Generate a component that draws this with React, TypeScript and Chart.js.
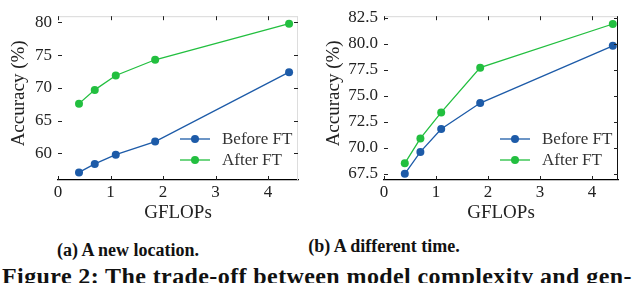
import React, { useEffect, useRef } from "react";
import { Chart, registerables } from "chart.js";

Chart.register(...registerables);

const gflops = [0.4, 0.7, 1.1, 1.85, 4.4];
const locBefore = [57.1, 58.4, 59.8, 61.8, 72.4];
const locAfter = [67.6, 69.7, 71.9, 74.3, 79.8];
const timeBefore = [67.5, 69.6, 71.8, 74.3, 79.8];
const timeAfter = [68.5, 70.9, 73.4, 77.7, 81.9];
const xTicks = [0, 1, 2, 3, 4];
const locYTicks = [60, 65, 70, 75, 80];
const timeYTicks = [67.5, 70, 72.5, 75, 77.5, 80, 82.5];
const seriesNames = ["Before FT", "After FT"];

const BLUE = "#1d5ba8";
const GREEN = "#22bf3f";
const SERIF = "'Liberation Serif', 'DejaVu Serif', serif";

type Cfg = {
  before: number[];
  after: number[];
  yTicks: number[];
  yMin: number;
  yMax: number;
  xMax: number;
  yWidth: number;
  top: number;
  titlePad: number;
  decimals: number;
  rightSpine: string;
};

const framePlugin = {
  id: "frame",
  afterDraw(chart: any, _args: any, opts: any) {
    const { ctx, chartArea: a, scales } = chart;
    const L = 4;
    ctx.save();
    ctx.strokeStyle = "#d8d8d8";
    ctx.lineWidth = 1;
    ctx.beginPath();
    ctx.moveTo(a.left, a.top + 0.5);
    ctx.lineTo(a.right, a.top + 0.5);
    ctx.stroke();
    ctx.strokeStyle = opts.rightSpine;
    ctx.beginPath();
    ctx.moveTo(a.right - 0.5, a.top);
    ctx.lineTo(a.right - 0.5, a.bottom);
    ctx.stroke();
    ctx.strokeStyle = "#222";
    ctx.lineWidth = 1;
    ctx.beginPath();
    for (const t of scales.x.ticks) {
      const px = Math.round(scales.x.getPixelForValue(t.value)) + 0.5;
      ctx.moveTo(px, a.bottom);
      ctx.lineTo(px, a.bottom - L);
      ctx.moveTo(px, a.top);
      ctx.lineTo(px, a.top + L);
    }
    for (const t of scales.y.ticks) {
      const py = Math.round(scales.y.getPixelForValue(t.value)) + 0.5;
      ctx.moveTo(a.left, py);
      ctx.lineTo(a.left + L, py);
      ctx.moveTo(a.right, py);
      ctx.lineTo(a.right - L, py);
    }
    ctx.stroke();
    const rows = [
      { label: chart.data.datasets[0].label, color: chart.data.datasets[0].borderColor, dy: 41 },
      { label: chart.data.datasets[1].label, color: chart.data.datasets[1].borderColor, dy: 20 },
    ];
    ctx.font = `17px ${SERIF}`;
    ctx.textBaseline = "middle";
    ctx.textAlign = "left";
    for (const r of rows) {
      const y = a.bottom - r.dy;
      const x0 = a.right - 118;
      const x1 = a.right - 88;
      ctx.strokeStyle = r.color;
      ctx.lineWidth = 1.3;
      ctx.beginPath();
      ctx.moveTo(x0, y);
      ctx.lineTo(x1, y);
      ctx.stroke();
      ctx.fillStyle = r.color;
      ctx.beginPath();
      ctx.arc((x0 + x1) / 2, y, 4, 0, Math.PI * 2);
      ctx.fill();
      ctx.fillStyle = "#333";
      ctx.fillText(r.label, a.right - 76, y + 1);
    }
    ctx.restore();
  },
};

function makeChart(canvas: HTMLCanvasElement, c: Cfg) {
  const ds = (label: string, ys: number[], color: string) => ({
    label,
    data: gflops.map((x, i) => ({ x, y: ys[i] })),
    borderColor: color,
    backgroundColor: color,
    pointBackgroundColor: color,
    pointBorderWidth: 0,
    pointRadius: 4,
    borderWidth: 1.3,
    clip: false as any,
  });
  return new Chart(canvas, {
    type: "line",
    data: {
      datasets: [ds(seriesNames[0], c.before, BLUE), ds(seriesNames[1], c.after, GREEN)],
    },
    plugins: [framePlugin],
    options: {
      animation: false,
      responsive: false,
      maintainAspectRatio: false,
      layout: { padding: { left: 0, right: 22, top: c.top, bottom: 0 } },
      plugins: {
        legend: { display: false },
        tooltip: { enabled: false },
        frame: { rightSpine: c.rightSpine },
      } as any,
      scales: {
        x: {
          type: "linear",
          min: 0,
          max: c.xMax,
          afterBuildTicks: (s: any) => {
            s.ticks = xTicks.map((v) => ({ value: v }));
          },
          afterFit: (s: any) => {
            s.height = 45;
          },
          ticks: {
            color: "#222",
            font: { family: SERIF, size: 17 },
            padding: 2,
            maxRotation: 0,
            callback: (v: any) => String(v),
          },
          grid: { display: false, drawTicks: false },
          border: { display: true, color: "#000", width: 1.2 },
          title: {
            display: true,
            text: "GFLOPs",
            color: "#222",
            font: { family: SERIF, size: 19 },
            padding: { top: 0, bottom: 1 },
          },
        },
        y: {
          type: "linear",
          min: c.yMin,
          max: c.yMax,
          afterBuildTicks: (s: any) => {
            s.ticks = c.yTicks.map((v) => ({ value: v }));
          },
          afterFit: (s: any) => {
            s.width = c.yWidth;
          },
          ticks: {
            color: "#222",
            font: { family: SERIF, size: 17 },
            padding: 6,
            callback: (v: any) => Number(v).toFixed(c.decimals),
          },
          grid: { display: false, drawTicks: false },
          border: { display: false },
          title: {
            display: true,
            text: "\u00a0\u00a0Accuracy (%)",
            color: "#222",
            font: { family: SERIF, size: 19 },
            padding: { top: c.titlePad, bottom: 0 },
          },
        },
      },
    },
  } as any);
}

export default function App() {
  const r1 = useRef<HTMLCanvasElement>(null);
  const r2 = useRef<HTMLCanvasElement>(null);
  useEffect(() => {
    const c1 = makeChart(r1.current!, {
      before: locBefore,
      after: locAfter,
      yTicks: locYTicks,
      yMin: 55.94,
      yMax: 80.95,
      xMax: 4.57,
      yWidth: 58,
      top: 1,
      titlePad: 8,
      decimals: 0,
      rightSpine: "#dddddd",
    });
    const c2 = makeChart(r2.current!, {
      before: timeBefore,
      after: timeAfter,
      yTicks: timeYTicks,
      yMin: 66.9,
      yMax: 82.65,
      xMax: 4.5,
      yWidth: 64,
      top: 5,
      titlePad: 3,
      decimals: 1,
      rightSpine: "#111111",
    });
    return () => {
      c1.destroy();
      c2.destroy();
    };
  }, []);
  const cap: React.CSSProperties = {
    position: "absolute",
    fontFamily: SERIF,
    fontWeight: "bold",
    fontSize: 18,
    lineHeight: "18px",
    color: "#111",
    whiteSpace: "nowrap",
    transform: "translateX(-50%)",
  };
  return (
    <div
      style={{
        position: "absolute",
        left: 0,
        top: 0,
        width: 640,
        height: 283,
        overflow: "hidden",
        background: "#fff",
      }}
    >
      <canvas ref={r1} width={320} height={225} style={{ position: "absolute", left: 0, top: 0 }} />
      <canvas ref={r2} width={320} height={225} style={{ position: "absolute", left: 320, top: 0 }} />
      <div style={{ ...cap, left: 128, top: 241 }}>(a) A new location.</div>
      <div style={{ ...cap, left: 384, top: 237 }}>(b) A different time.</div>
      <div
        style={{
          position: "absolute",
          left: 2,
          top: 264,
          fontFamily: SERIF,
          fontWeight: "bold",
          fontSize: 24,
          lineHeight: "24px",
          letterSpacing: 0.4,
          color: "#111",
          whiteSpace: "nowrap",
        }}
      >
        Figure 2: The trade-off between model complexity and gen-
      </div>
    </div>
  );
}
